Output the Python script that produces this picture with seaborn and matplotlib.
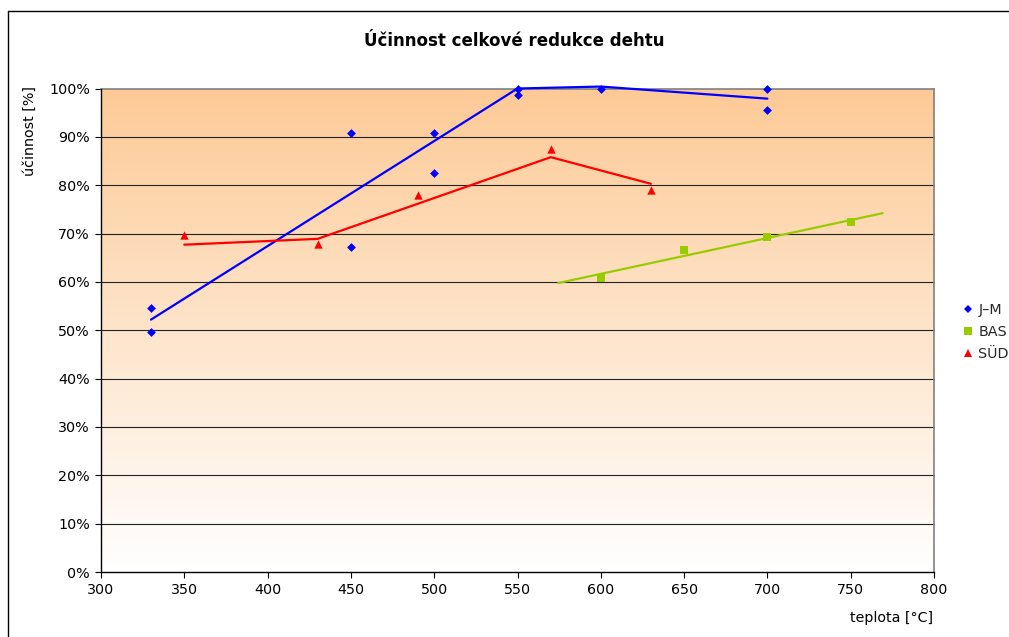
import numpy as np
import pandas as pd
import matplotlib
matplotlib.use("Agg")
import matplotlib.pyplot as plt
from matplotlib.lines import Line2D
import seaborn as sns

# ---- measured points -------------------------------------------------------
jm_x = [330, 330, 450, 450, 500, 500, 550, 550, 600, 700, 700]
jm_y = [54.7, 49.7, 90.8, 67.2, 90.8, 82.5, 100.0, 98.7, 100.0, 100.0, 95.5]

bas_x = [600, 650, 700, 750]
bas_y = [60.8, 66.6, 69.2, 72.3]

sud_x = [350, 430, 490, 570, 630]
sud_y = [69.8, 67.8, 78.0, 87.4, 79.0]

# ---- trend curves -----------------------------------------------------------
jm_trend_x = [330, 550, 600, 700]
jm_trend_y = [52.2, 100.0, 100.4, 97.9]

sud_trend_x = [350, 430, 570, 630]
sud_trend_y = [67.7, 68.9, 85.8, 80.3]

bas_trend_span = [574.5, 769.2]

series_names = ["J–M", "BAS", "SÜD"]
colors = {"J–M": "#0000FF", "BAS": "#99CC00", "SÜD": "#FF0000"}
markers = {"J–M": "D", "BAS": "s", "SÜD": "^"}
sizes = {"J–M": 20, "BAS": 30, "SÜD": 36}

x_ticks = [300, 350, 400, 450, 500, 550, 600, 650, 700, 750, 800]
y_ticks = [0, 10, 20, 30, 40, 50, 60, 70, 80, 90, 100]

title = "Účinnost celkové redukce dehtu"
x_label = "teplota [°C]"
y_label = "účinnost [%]"

# ---- data frame --------------------------------------------------------------
points = pd.DataFrame({
    "teplota": jm_x + bas_x + sud_x,
    "ucinnost": jm_y + bas_y + sud_y,
    "vyrobce": ["J–M"] * len(jm_x) + ["BAS"] * len(bas_x) + ["SÜD"] * len(sud_x),
})

sns.set_theme(style="white")
plt.rcParams["font.family"] = ["DejaVu Sans"]

FS = 10.3
W, H = 1009, 637
fig = plt.figure(figsize=(W / 100, H / 100), dpi=100)
fig.patch.set_facecolor("white")

# plot area in pixel coordinates
L, R, T, B = 101, 934, 88.5, 572
ax = fig.add_axes([L / W, (H - B) / H, (R - L) / W, (B - T) / H])

# gradient background of the plot area
top_rgb = np.array([253, 202, 150]) / 255.0
bot_rgb = np.array([255, 255, 255]) / 255.0
t = np.linspace(0, 1, 256)[:, None]
grad = (1 - t) * top_rgb + t * bot_rgb
ax.imshow(grad[:, None, :], extent=[300, 800, 0, 100], aspect="auto",
          origin="upper", zorder=0, interpolation="bilinear")

# horizontal gridlines
for yv in y_ticks[1:-1]:
    ax.axhline(yv, color="#222222", lw=0.8, zorder=1)

# trend curves
line_kw = dict(sort=False, estimator=None, lw=1.6, ax=ax, zorder=3)
sns.lineplot(x=jm_trend_x, y=jm_trend_y, color=colors["J–M"], **line_kw)
sns.lineplot(x=sud_trend_x, y=sud_trend_y, color=colors["SÜD"], **line_kw)
k, q = np.polyfit(bas_x, bas_y, 1)
bas_line_y = [k * xv + q for xv in bas_trend_span]
sns.lineplot(x=bas_trend_span, y=bas_line_y, color=colors["BAS"], **line_kw)
for ln in ax.get_lines():
    ln.set_clip_on(False)

# measured points
for name in series_names:
    sub = points[points["vyrobce"] == name]
    sns.scatterplot(data=sub, x="teplota", y="ucinnost", color=colors[name],
                    marker=markers[name], s=sizes[name], linewidth=0,
                    ax=ax, zorder=4, legend=False, clip_on=False)

ax.set_xlim(300, 800)
ax.set_ylim(0, 100)
ax.set_xticks(x_ticks)
ax.set_yticks(y_ticks)
ax.set_yticklabels([f"{v}%" for v in y_ticks])
ax.set_xlabel("")
ax.set_ylabel("")
ax.tick_params(axis="both", which="major", direction="out", length=4, width=0.8,
               color="black", labelsize=FS, labelcolor="black", pad=4,
               bottom=True, left=True)
for side in ["left", "bottom"]:
    ax.spines[side].set_color("black")
    ax.spines[side].set_linewidth(1.0)
for side in ["top", "right"]:
    ax.spines[side].set_color("#808080")
    ax.spines[side].set_linewidth(1.2)
    ax.spines[side].set_visible(True)
    ax.spines[side].set_zorder(2)

# chart frame
fig.add_artist(Line2D([8 / W, 8 / W], [0, 1 - 11 / H], transform=fig.transFigure,
                      color="black", lw=1.0))
fig.add_artist(Line2D([8 / W, 1], [1 - 11 / H, 1 - 11 / H], transform=fig.transFigure,
                      color="black", lw=1.0))

# titles
fig.text(514 / W, 1 - 41 / H, title, ha="center", va="center",
         fontsize=12, fontweight="bold", color="black")
fig.text(30 / W, 1 - 131 / H, y_label, ha="center", va="center",
         rotation=90, fontsize=FS, color="black")
fig.text(933 / W, 1 - 618 / H, x_label, ha="right", va="center",
         fontsize=FS, color="black")

# legend
handles = [Line2D([], [], linestyle="none", marker=markers[n], color=colors[n],
                  markersize=np.sqrt(sizes[n]), markeredgewidth=0)
           for n in series_names]
fig.legend(handles, series_names, loc="center left",
           bbox_to_anchor=(964 / W, 1 - 332 / H), frameon=False,
           fontsize=FS, handlelength=0.6, handletextpad=0.4,
           labelspacing=0.55, borderaxespad=0, borderpad=0)

fig.savefig("out.png", dpi=100)
